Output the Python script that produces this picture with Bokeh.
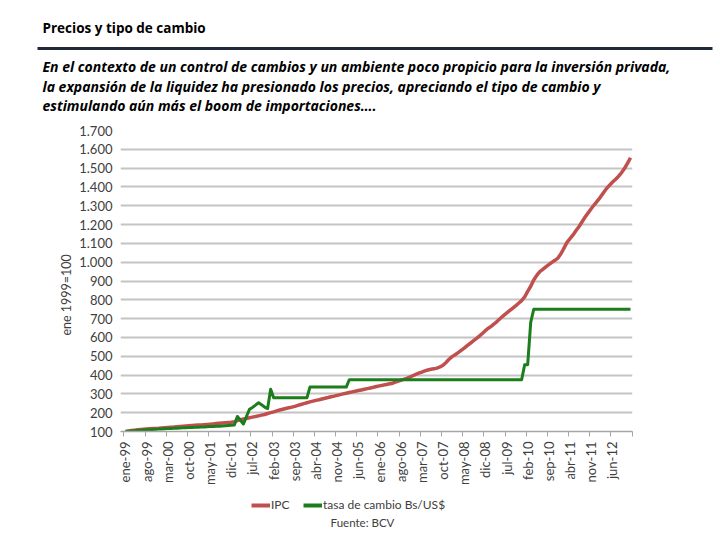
import numpy as np
from bokeh.plotting import figure
from bokeh.layouts import column
from bokeh.models import Range1d, FixedTicker, Legend, LegendItem, Title
from bokeh.core.properties import value
from bokeh.embed import file_html
from bokeh.resources import INLINE

# ---------------- data ----------------
month_names = ["ene", "feb", "mar", "abr", "may", "jun", "jul", "ago", "sep", "oct", "nov", "dic"]
years = list(range(1999, 2013))
dates = [f"{m}-{str(y)[2:]}" for y in years for m in month_names]

tick_labels = ["ene-99", "ago-99", "mar-00", "oct-00", "may-01", "dic-01", "jul-02", "feb-03",
               "sep-03", "abr-04", "nov-04", "jun-05", "ene-06", "ago-06", "mar-07", "oct-07",
               "may-08", "dic-08", "jul-09", "feb-10", "sep-10", "abr-11", "nov-11", "jun-12"]

ipc = [
    100.0, 102.9, 105.0, 107.2, 108.9, 110.2, 111.8, 113.1, 114.3, 115.4, 116.2, 117.0,   # 1999
    118.5, 120.1, 121.5, 122.8, 124.0, 125.6, 127.0, 128.3, 129.5, 130.6, 131.6, 132.7,   # 2000
    134.0, 135.2, 136.3, 137.6, 139.0, 140.5, 142.0, 143.6, 145.0, 146.4, 147.8, 149.0,   # 2001
    152.2, 157.5, 163.0, 166.3, 169.5, 173.0, 176.5, 179.5, 183.2, 187.0, 190.5, 195.5,   # 2002
    200.0, 204.5, 209.5, 214.0, 218.0, 222.0, 226.0, 229.5, 233.5, 238.5, 243.5, 248.5,   # 2003
    253.0, 257.5, 261.5, 265.5, 269.0, 273.0, 277.0, 280.5, 284.5, 288.0, 292.0, 296.2,   # 2004
    300.0, 303.5, 307.0, 310.5, 314.0, 317.5, 321.0, 324.5, 328.0, 331.5, 335.0, 338.9,   # 2005
    342.5, 345.5, 349.0, 352.0, 355.0, 361.0, 367.0, 372.0, 377.0, 382.0, 389.0, 396.5,   # 2006
    404.0, 410.0, 416.0, 422.0, 427.0, 431.0, 433.0, 437.0, 443.0, 452.0, 467.0, 484.0,   # 2007
    498.0, 508.0, 519.0, 531.0, 543.0, 556.0, 569.0, 582.0, 594.0, 607.0, 621.0, 636.0,   # 2008
    649.0, 660.0, 673.0, 687.0, 702.0, 716.0, 729.0, 742.0, 755.0, 768.0, 782.0, 796.0,   # 2009
    815.0, 845.0, 872.0, 905.0, 930.0, 950.0, 962.0, 975.0, 987.0, 999.0, 1010.0, 1022.0, # 2010
    1045.0, 1075.0, 1105.0, 1125.0, 1145.0, 1168.0, 1190.0, 1215.0, 1240.0, 1262.0, 1284.0, 1305.0,  # 2011
    1325.0, 1345.0, 1368.0, 1390.0, 1408.0, 1425.0, 1440.0, 1456.0, 1475.0, 1498.0, 1525.0, 1555.0,  # 2012
]

tasa = [
    100.0, 101.5, 102.8, 104.0, 105.3, 106.5, 107.6, 108.7, 109.8, 110.8, 111.9, 113.0,   # 1999
    113.8, 114.6, 115.5, 116.3, 117.0, 117.8, 118.6, 119.5, 120.3, 121.0, 121.5, 122.1,   # 2000
    122.8, 123.5, 124.4, 125.3, 126.0, 126.8, 127.5, 128.3, 129.5, 130.5, 131.5, 132.8,   # 2001
    134.0, 180.0, 160.0, 140.0, 180.0, 218.0, 228.0, 240.0, 253.0, 242.0, 230.0, 222.0,   # 2002
    325.0, 279.0, 279.0, 279.0, 279.0, 279.0, 279.0, 279.0, 279.0, 279.0, 279.0, 279.0,   # 2003
    279.0, 336.0, 336.0, 336.0, 336.0, 336.0, 336.0, 336.0, 336.0, 336.0, 336.0, 336.0,   # 2004
    336.0, 336.0, 375.0, 375.0, 375.0, 375.0, 375.0, 375.0, 375.0, 375.0, 375.0, 375.0,   # 2005
    375.0, 375.0, 375.0, 375.0, 375.0, 375.0, 375.0, 375.0, 375.0, 375.0, 375.0, 375.0,   # 2006
    375.0, 375.0, 375.0, 375.0, 375.0, 375.0, 375.0, 375.0, 375.0, 375.0, 375.0, 375.0,   # 2007
    375.0, 375.0, 375.0, 375.0, 375.0, 375.0, 375.0, 375.0, 375.0, 375.0, 375.0, 375.0,   # 2008
    375.0, 375.0, 375.0, 375.0, 375.0, 375.0, 375.0, 375.0, 375.0, 375.0, 375.0, 375.0,   # 2009
    455.0, 455.0, 680.0, 750.0, 750.0, 750.0, 750.0, 750.0, 750.0, 750.0, 750.0, 750.0,   # 2010
    750.0, 750.0, 750.0, 750.0, 750.0, 750.0, 750.0, 750.0, 750.0, 750.0, 750.0, 750.0,   # 2011
    750.0, 750.0, 750.0, 750.0, 750.0, 750.0, 750.0, 750.0, 750.0, 750.0, 750.0, 750.0,   # 2012
]

y_ticks = [100, 200, 300, 400, 500, 600, 700, 800, 900, 1000, 1100, 1200, 1300, 1400, 1500, 1600, 1700]
y_tick_labels = ["100", "200", "300", "400", "500", "600", "700", "800", "900", "1.000",
                 "1.100", "1.200", "1.300", "1.400", "1.500", "1.600", "1.700"]

title_text = "Precios y tipo de cambio"
subtitle_lines = [
    "En el contexto de un control de cambios y un ambiente poco propicio para la inversión privada,",
    "la expansión de la liquidez ha presionado los precios, apreciando el tipo de cambio y",
    "estimulando aún más el boom de importaciones….",
]
y_axis_label = "ene 1999=100"
series_names = ["IPC", "tasa de cambio Bs/US$"]
source_text = "Fuente: BCV"

# ---------------- styling ----------------
RED = "#bf504d"
GREEN = "#1b7d1b"
FONT = "Lato"
HFONT = "Open Sans"
TXT = "#404040"
W = 716
HEAD_H, CHART_H, FOOT_H = 118, 370, 48
FRAME_L, FRAME_R, FRAME_T, FRAME_B = 120, 632, 130, 433   # page pixel edges of the plot frame


def blank(height):
    f = figure(width=W, height=height, output_backend="svg", toolbar_location=None,
               x_range=Range1d(0, W), y_range=Range1d(height, 0), min_border=0)
    f.axis.visible = False
    f.grid.visible = False
    f.outline_line_color = None
    f.background_fill_color = "white"
    f.border_fill_color = "white"
    f.frame_align = False
    return f


# ---------------- header ----------------
head = blank(HEAD_H)
head.text(x=[42], y=[27], text=[title_text], text_font=value(HFONT), text_font_size="13.5px",
          text_font_style="bold", text_baseline="middle", text_color="#000000")
head.text(x=[42] * 3, y=[66, 85.5, 105], text=subtitle_lines, text_font=value(HFONT),
          text_font_size="14px", text_font_style="bold italic", text_baseline="middle",
          text_color="#000000")
head.quad(left=[37], right=[712], top=[46.5], bottom=[49.5], fill_color="#1f2a3a", line_color=None)

# ---------------- chart ----------------
x = list(range(len(dates)))
p = figure(width=W, height=CHART_H, output_backend="svg", toolbar_location=None,
           x_range=Range1d(-1.65, 167.66), y_range=Range1d(100, 1700),
           min_border_left=FRAME_L, min_border_right=W - FRAME_R,
           min_border_top=FRAME_T - HEAD_H, min_border_bottom=HEAD_H + CHART_H - FRAME_B)
p.outline_line_color = None
p.background_fill_color = "white"
p.border_fill_color = "white"
p.frame_align = False

r1 = p.line(x, ipc, line_color=RED, line_width=3.5, line_join="round")
r2 = p.line(x, tasa, line_color=GREEN, line_width=3, line_join="round")

tick_pos = [dates.index(t) for t in tick_labels]
p.xaxis.ticker = FixedTicker(ticks=tick_pos, minor_ticks=[-0.5 + 7 * k for k in range(25)])
p.xaxis.major_label_overrides = {pos: lab for pos, lab in zip(tick_pos, tick_labels)}
p.xaxis.major_label_orientation = np.pi / 2
p.xaxis.major_tick_out = 0
p.xaxis.major_tick_in = 0
p.xaxis.minor_tick_out = 5
p.xaxis.minor_tick_in = 0
p.xaxis.minor_tick_line_color = "#a6a6a6"
p.xaxis.axis_line_color = "#a6a6a6"
p.xaxis.axis_line_width = 1.5
p.xaxis.major_label_standoff = 5
p.xaxis.major_label_text_font = FONT
p.xaxis.major_label_text_font_size = "13px"
p.xaxis.major_label_text_color = TXT
p.xgrid.visible = False

p.yaxis.ticker = FixedTicker(ticks=y_ticks)
p.yaxis.major_label_overrides = {t: l for t, l in zip(y_ticks, y_tick_labels)}
p.yaxis.axis_line_color = None
p.yaxis.major_tick_out = 0
p.yaxis.major_tick_in = 0
p.yaxis.minor_tick_out = 0
p.yaxis.minor_tick_in = 0
p.yaxis.major_label_standoff = 8
p.yaxis.major_label_text_font = FONT
p.yaxis.major_label_text_font_size = "13px"
p.yaxis.major_label_text_color = TXT
p.ygrid.grid_line_color = "#c4c4c4"
p.ygrid.grid_line_width = 1.8

# y-axis title, bottom-anchored and lifted so it sits where the reference has it
p.add_layout(Title(text=y_axis_label, align="left", offset=96, text_font=FONT,
                   text_font_size="12.5px", text_font_style="normal", text_color=TXT,
                   standoff=6), "left")

# ---------------- footer (legend + source) ----------------
foot = blank(FOOT_H)
g1 = foot.line(x=[float("nan")], y=[float("nan")], line_color=RED, line_width=4)
g2 = foot.line(x=[float("nan")], y=[float("nan")], line_color=GREEN, line_width=4)
foot.text(x=[362], y=[522 - HEAD_H - CHART_H], text=[source_text], text_font=value(FONT),
          text_font_size="11.5px", text_align="center", text_baseline="middle", text_color=TXT)
legend = Legend(items=[LegendItem(label=series_names[0], renderers=[g1]),
                       LegendItem(label=series_names[1], renderers=[g2])],
                orientation="horizontal", location=(251, HEAD_H + CHART_H + FOOT_H - 512))
legend.padding = 0
legend.margin = 0
legend.spacing = 12
legend.label_standoff = 1
legend.glyph_width = 19
legend.glyph_height = 14
legend.label_height = 14
legend.label_text_font = FONT
legend.label_text_font_size = "12px"
legend.label_text_color = TXT
legend.border_line_color = None
legend.background_fill_alpha = 0
foot.add_layout(legend)

layout = column(head, p, foot, spacing=0)
open("out.html", "w").write(file_html(layout, INLINE))
